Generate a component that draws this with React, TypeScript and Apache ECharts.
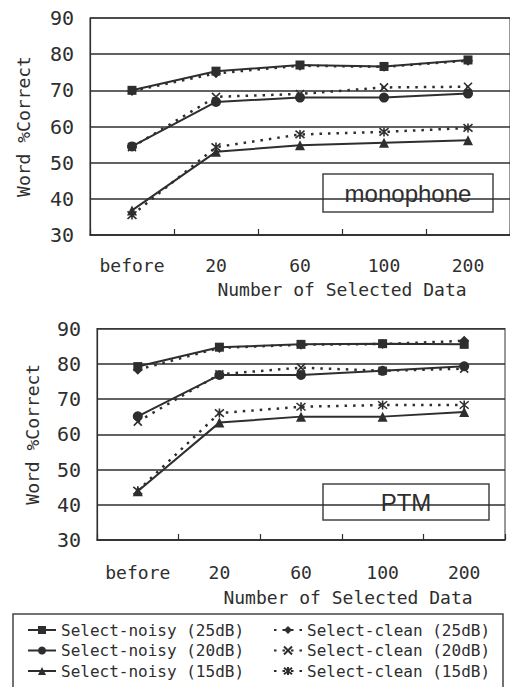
import React, { useEffect, useRef } from "react";
import * as echarts from "echarts";

const categories = ["before", "20", "60", "100", "200"];
const seriesNames = [
  "Select-noisy (25dB)",
  "Select-clean (25dB)",
  "Select-noisy (20dB)",
  "Select-clean (20dB)",
  "Select-noisy (15dB)",
  "Select-clean (15dB)",
];

// monophone
const monoNoisy25 = [70.0, 75.3, 77.0, 76.6, 78.4];
const monoClean25 = [69.8, 74.7, 76.8, 76.5, 78.2];
const monoNoisy20 = [54.5, 66.8, 68.0, 68.0, 69.1];
const monoClean20 = [54.3, 68.2, 69.0, 70.8, 71.0];
const monoNoisy15 = [36.8, 53.0, 54.8, 55.5, 56.2];
const monoClean15 = [35.5, 54.3, 57.8, 58.5, 59.6];

// PTM
const ptmNoisy25 = [79.2, 84.7, 85.5, 85.7, 85.5];
const ptmClean25 = [78.3, 84.5, 85.4, 85.6, 86.5];
const ptmNoisy20 = [65.1, 76.8, 76.8, 78.0, 79.3];
const ptmClean20 = [63.6, 77.0, 78.9, 78.0, 78.6];
const ptmNoisy15 = [43.8, 63.3, 65.0, 65.0, 66.3];
const ptmClean15 = [44.0, 66.0, 67.8, 68.3, 68.3];

const INK = "#2e2e2e";
const MONO = "'DejaVu Sans Mono', monospace";
const SANS = "'Liberation Sans', Arial, sans-serif";

const symX = "path://M0,0L10,10M10,0L0,10";
const symStar = "path://M0,0L10,10M10,0L0,10M5,-1L5,11";

const symbols = ["rect", "diamond", "circle", symX, "triangle", symStar];
const sizes = [9, 10, 10, 8, 10, 9];

function makeSeries(gridIdx: number, data: number[][]) {
  return data.map((d, i) => {
    const clean = i % 2 === 1;
    return {
      name: seriesNames[i],
      type: "line",
      xAxisIndex: gridIdx,
      yAxisIndex: gridIdx,
      data: d,
      symbol: symbols[i],
      symbolSize: sizes[i],
      z: clean ? 2 : 3,
      lineStyle: clean
        ? { color: INK, width: 2.5, type: [2.5, 6] }
        : { color: INK, width: 2, type: "solid" },
      itemStyle: { color: INK, borderColor: INK, borderWidth: clean && (i === 3 || i === 5) ? 1.6 : 0 },
    };
  });
}

export default function App() {
  const ref = useRef<HTMLDivElement>(null);
  useEffect(() => {
    if (!ref.current) return;
    const chart = echarts.init(ref.current, null, { renderer: "svg" });
    const xAxisBase = (gridIndex: number, margin: number, gap: number, pad: number) => ({
      type: "category",
      gridIndex,
      data: categories,
      boundaryGap: true,
      axisLine: { show: true, lineStyle: { color: INK, width: 1.5 } },
      axisTick: { show: true, inside: true, length: 6, lineStyle: { color: INK, width: 1.2 } },
      axisLabel: { interval: 0, margin, fontSize: 18, color: INK, fontFamily: MONO },
      name: "Number of Selected Data",
      nameLocation: "middle",
      nameGap: gap,
      nameTextStyle: { fontSize: 18, color: INK, fontFamily: MONO, padding: [0, 0, 0, pad] },
    });
    const yAxisBase = (gridIndex: number, gap: number) => ({
      type: "value",
      gridIndex,
      min: 30,
      max: 90,
      interval: 10,
      axisLine: { show: true, lineStyle: { color: INK, width: 1.2 } },
      axisTick: { show: false },
      axisLabel: { margin: 16, fontSize: 20, color: INK, fontFamily: MONO },
      splitLine: { show: true, lineStyle: { color: INK, width: 1.5 } },
      name: "Word %Correct",
      nameLocation: "middle",
      nameGap: gap,
      nameTextStyle: { fontSize: 18, color: INK, fontFamily: MONO },
    });
    const legendBase = {
      orient: "vertical",
      top: 622,
      itemWidth: 28,
      itemHeight: 10,
      itemGap: 4.5,
      padding: 0,
      textStyle: { fontSize: 16, color: INK, fontFamily: MONO },
    };
    const option = {
      animation: false,
      backgroundColor: "#fff",
      grid: [
        { left: 90, top: 18, width: 421, height: 217, show: true, borderColor: "#555", borderWidth: 1.2, backgroundColor: "transparent" },
        { left: 97, top: 328.5, width: 408, height: 211.5, show: true, borderColor: "#555", borderWidth: 1.2, backgroundColor: "transparent" },
      ],
      xAxis: [xAxisBase(0, 21, 45, 84), xAxisBase(1, 23, 48, 94)],
      yAxis: [yAxisBase(0, 58), yAxisBase(1, 56)],
      legend: [
        { ...legendBase, data: [seriesNames[0], seriesNames[2], seriesNames[4]], left: 27 },
        { ...legendBase, data: [seriesNames[1], seriesNames[3], seriesNames[5]], left: 273 },
      ],
      graphic: [
        {
          type: "group",
          z: 100,
          children: [
            { type: "rect", shape: { x: 323, y: 174, width: 170, height: 38 }, style: { fill: "#fff", stroke: "#444", lineWidth: 1.5 } },
            { type: "text", x: 408, y: 193, style: { text: "monophone", font: `24px ${SANS}`, fill: INK, align: "center", verticalAlign: "middle" } },
            { type: "rect", shape: { x: 323, y: 484, width: 166, height: 36 }, style: { fill: "#fff", stroke: "#444", lineWidth: 1.5 } },
            { type: "text", x: 406, y: 502, style: { text: "PTM", font: `24px ${SANS}`, fill: INK, align: "center", verticalAlign: "middle" } },
            { type: "rect", shape: { x: 13, y: 614, width: 490, height: 90 }, style: { fill: "none", stroke: "#444", lineWidth: 1.5 } },
          ],
        },
      ],
      series: [
        ...makeSeries(0, [monoNoisy25, monoClean25, monoNoisy20, monoClean20, monoNoisy15, monoClean15]),
        ...makeSeries(1, [ptmNoisy25, ptmClean25, ptmNoisy20, ptmClean20, ptmNoisy15, ptmClean15]),
      ],
    };
    chart.setOption(option as any);
    return () => chart.dispose();
  }, []);
  return <div ref={ref} style={{ position: "fixed", left: 0, top: 0, width: 510, height: 687 }} />;
}
